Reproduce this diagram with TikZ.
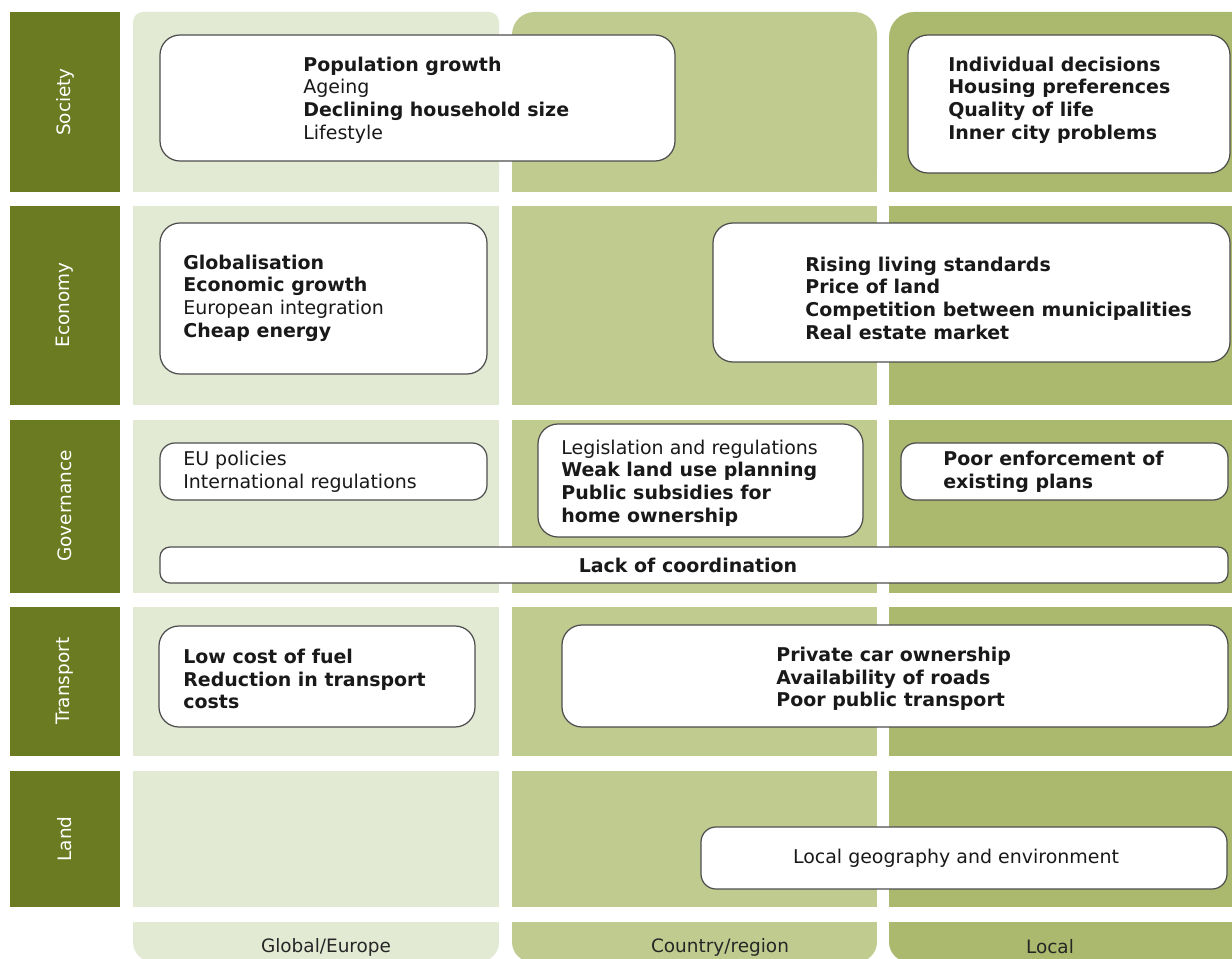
\documentclass[tikz,border=0pt]{standalone}
\usepackage{fontspec}
\setmainfont{DejaVu Sans}
\definecolor{rowolive}{HTML}{6B7B22}
\definecolor{globalgreen}{HTML}{E3EAD4}
\definecolor{countrygreen}{HTML}{C0CB90}
\definecolor{localgreen}{HTML}{AAB96E}
\definecolor{boxline}{HTML}{4D4D4D}
\tikzset{
	rowtext/.style={text=white, rotate=90, inner sep=0pt, font=\fontsize{10.5}{12}\selectfont},
	factor/.style={draw=boxline, fill=white, line width=0.7pt, rounded corners=0.4cm},
	factortext/.style={anchor=west, align=left, inner sep=0pt, text=black!90, font=\fontsize{10.8}{12.9}\selectfont},
	scaletext/.style={inner sep=0pt, text=black!85, font=\fontsize{10.5}{12}\selectfont}
}

\begin{document}
\begin{tikzpicture}[x=0.02cm, y=-0.02cm]
			%%%%% START %%%%%
			\useasboundingbox (0,0) rectangle (1232,959);
			\clip (0,0) rectangle (1232,959);
			
			%% columns: top cells
			\fill[globalgreen, rounded corners=0.2cm] (133,12) rectangle (499,192);
			\fill[globalgreen] (133,80) rectangle (499,192);
			\fill[countrygreen, rounded corners=0.45cm] (512,12) rectangle (877,192);
			\fill[countrygreen] (512,80) rectangle (877,192);
			\fill[localgreen, rounded corners=0.5cm] (889,12) rectangle (1260,192);
			\fill[localgreen] (889,80) rectangle (1260,192);
			
			%% columns: middle cells
			\fill[globalgreen] (133,206) rectangle (499,405);
			\fill[countrygreen] (512,206) rectangle (877,405);
			\fill[localgreen] (889,206) rectangle (1260,405);
			
			\fill[globalgreen] (133,420) rectangle (499,593);
			\fill[countrygreen] (512,420) rectangle (877,593);
			\fill[localgreen] (889,420) rectangle (1260,593);
			
			\fill[globalgreen] (133,607) rectangle (499,756);
			\fill[countrygreen] (512,607) rectangle (877,756);
			\fill[localgreen] (889,607) rectangle (1260,756);
			
			\fill[globalgreen] (133,771) rectangle (499,907);
			\fill[countrygreen] (512,771) rectangle (877,907);
			\fill[localgreen] (889,771) rectangle (1260,907);
			
			%% columns: bottom strip
			\fill[globalgreen, rounded corners=0.4cm] (133,922) rectangle (499,962);
			\fill[globalgreen] (133,922) rectangle (499,940);
			\fill[countrygreen, rounded corners=0.4cm] (512,922) rectangle (877,962);
			\fill[countrygreen] (512,922) rectangle (877,940);
			\fill[localgreen, rounded corners=0.4cm] (889,922) rectangle (1260,962);
			\fill[localgreen] (889,922) rectangle (1260,940);
			
			\node[scaletext] (global) at (326,947) {Global/Europe};
			\node[scaletext] (country) at (720,947) {Country/region};
			\node[scaletext] (local) at (1050,947) {Local};
			
			%% row labels
			\fill[rowolive] (10,12) rectangle (120,192);
			\node[rowtext] (society) at (65,102) {Society};
			\fill[rowolive] (10,206) rectangle (120,405);
			\node[rowtext] (economy) at (65,305) {Economy};
			\fill[rowolive] (10,420) rectangle (120,593);
			\node[rowtext] (governance) at (65,506) {Governance};
			\fill[rowolive] (10,607) rectangle (120,756);
			\node[rowtext] (transport) at (65,681) {Transport};
			\fill[rowolive] (10,771) rectangle (120,907);
			\node[rowtext] (land) at (65,839) {Land};
			
			%% society
			\draw[factor] (160,35) rectangle (675,161);
			\node[factortext] (socglobal) at (303,100) {\textbf{Population growth}\\Ageing\\\textbf{Declining household size}\\Lifestyle};
			\draw[factor] (908,35) rectangle (1230,173);
			\node[factortext, font=\fontsize{10.8}{12.9}\selectfont\bfseries] (soclocal) at (948,100) {Individual decisions\\Housing preferences\\Quality of life\\Inner city problems};
			
			%% economy
			\draw[factor] (160,223) rectangle (487,374);
			\node[factortext] (ecoglobal) at (183,298) {\textbf{Globalisation}\\\textbf{Economic growth}\\European integration\\\textbf{Cheap energy}};
			\draw[factor] (713,223) rectangle (1230,362);
			\node[factortext, font=\fontsize{10.8}{12.9}\selectfont\bfseries] (ecolocal) at (805,298) {Rising living standards\\Price of land\\Competition between municipalities\\Real estate market};
			
			%% governance
			\draw[factor, rounded corners=0.3cm] (160,443) rectangle (487,500);
			\node[factortext] (govglobal) at (183,472) {EU policies\\International regulations};
			\draw[factor] (538,424) rectangle (863,537);
			\node[factortext] (govcountry) at (561,483) {Legislation and regulations\\\textbf{Weak land use planning}\\\textbf{Public subsidies for}\\\textbf{home ownership}};
			\draw[factor, rounded corners=0.3cm] (901,443) rectangle (1228,500);
			\node[factortext, font=\fontsize{10.8}{12.9}\selectfont\bfseries] (govlocal) at (943,472) {Poor enforcement of\\existing plans};
			\draw[factor, rounded corners=0.2cm] (160,547) rectangle (1228,583);
			\node[factortext, anchor=center, font=\fontsize{10.8}{12.9}\selectfont\bfseries] (coordination) at (688,565) {Lack of coordination};
			
			%% transport
			\draw[factor] (159,626) rectangle (475,727);
			\node[factortext, font=\fontsize{10.8}{12.9}\selectfont\bfseries] (traglobal) at (183,679) {Low cost of fuel\\Reduction in transport\\costs};
			\draw[factor] (562,625) rectangle (1228,727);
			\node[factortext, font=\fontsize{10.8}{12.9}\selectfont\bfseries] (tralocal) at (776,679) {Private car ownership\\Availability of roads\\Poor public transport};
			
			%% land
			\draw[factor, rounded corners=0.3cm] (701,827) rectangle (1227,889);
			\node[factortext, anchor=center] (landlocal) at (956,858) {Local geography and environment};
			
			%%%%% END %%%%%
\end{tikzpicture}
\end{document}
